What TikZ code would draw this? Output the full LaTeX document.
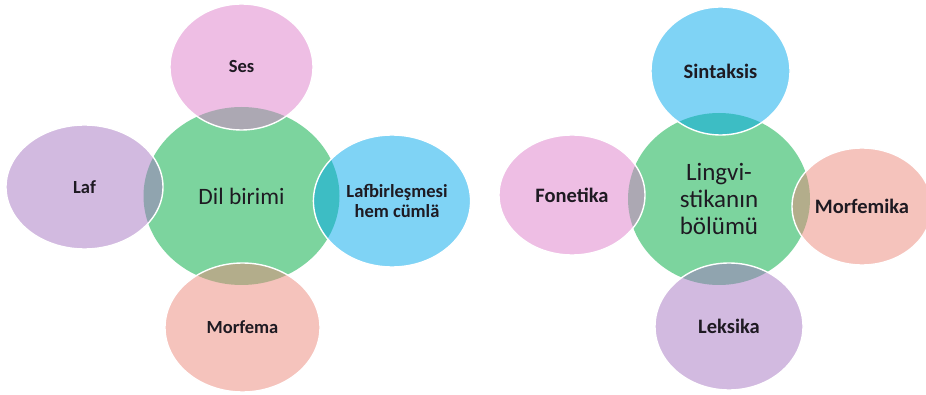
\documentclass[tikz,border=0pt]{standalone}
\usepackage{fontspec}
\setmainfont{Carlito}
\usetikzlibrary{shapes.geometric}

\definecolor{hubgreen}{RGB}{124,212,158}
\definecolor{petpink}{RGB}{221,125,201}
\definecolor{petpurple}{RGB}{165,117,193}
\definecolor{petblue}{RGB}{0,167,235}
\definecolor{petsalmon}{RGB}{235,135,121}
\definecolor{labelink}{RGB}{30,26,34}

\tikzset{
  hub/.style={ellipse, inner sep=0pt, fill=hubgreen, text=labelink,
    align=center},
  petal/.style={ellipse, inner sep=0pt, fill=#1, fill opacity=0.5,
    text opacity=1, draw=white, draw opacity=1, line width=1.4pt,
    text=labelink, align=center, font=\bfseries},
  sz/.style 2 args={minimum width=#1pt, minimum height=#2pt},
}

\begin{document}
\begin{tikzpicture}[x=1pt, y=-1pt]
  \useasboundingbox (0,0) rectangle (926,395);

  % Left cluster: units of language
  \node[hub, sz={196}{178}, font=\fontsize{23.5}{27}\selectfont]
    (dil) at (241.5,196) {Dil birimi};
  \node[petal=petpink, sz={143}{126}, font=\bfseries\fontsize{18.5}{20}\selectfont]
    (ses) at (241.5,67) {Ses};
  \node[petal=petpurple, sz={157}{124}, font=\bfseries\fontsize{18.5}{20}\selectfont]
    (laf) at (84.5,187) {Laf};
  \node[petal=petblue, sz={142}{132}, font=\bfseries\fontsize{18.5}{20}\selectfont]
    (cuml) at (392,201) {\hspace*{10pt}Lafbirleşmesi\\\hspace*{10pt}hem cümlä};
  \node[petal=petsalmon, sz={155}{129}, font=\bfseries\fontsize{18.5}{20}\selectfont]
    (morf) at (242.5,327.5) {Morfema};

  % Right cluster: branches of linguistics
  \node[hub, sz={182}{172}, font=\fontsize{25}{27}\selectfont]
    (ling) at (719,199) {Lingvi-\\stikanın\\bölümü};
  \node[petal=petblue, sz={139}{128}, font=\bfseries\fontsize{20.5}{22}\selectfont]
    (sint) at (720.5,71) {Sintaksis};
  \node[petal=petpink, sz={146}{120}, font=\bfseries\fontsize{20.5}{22}\selectfont]
    (fon) at (572,195) {Fonetika};
  \node[petal=petsalmon, sz={140}{117}, font=\bfseries\fontsize{20.5}{22}\selectfont]
    (mfk) at (862,206.5) {Morfemika};
  \node[petal=petpurple, sz={148}{127}, font=\bfseries\fontsize{20.5}{22}\selectfont]
    (lek) at (729,326.5) {Leksika};
\end{tikzpicture}
\end{document}
